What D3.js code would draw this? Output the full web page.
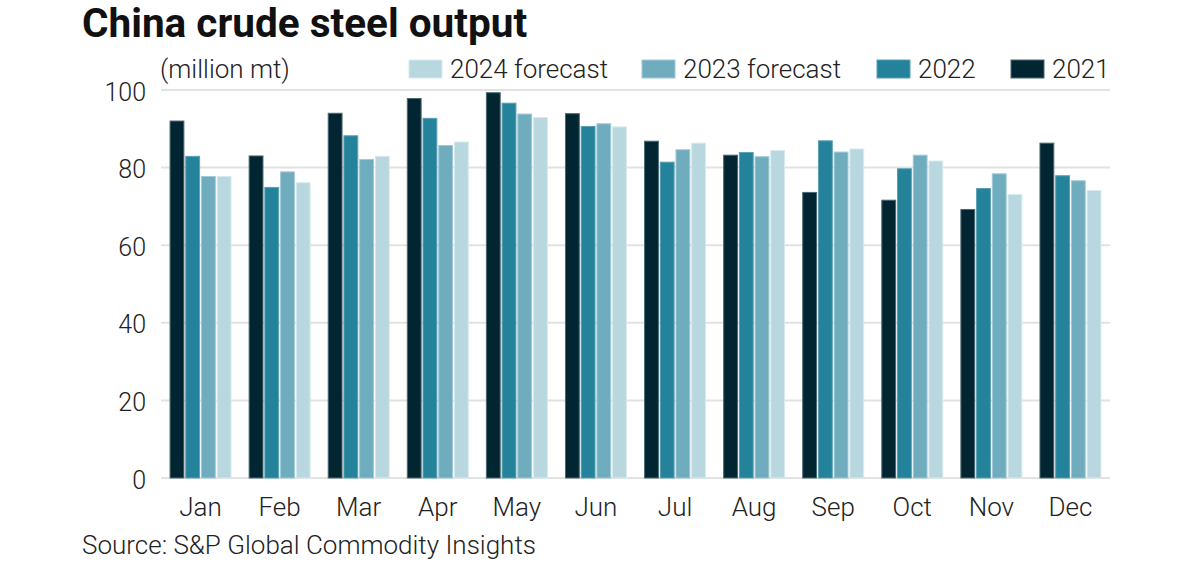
<!DOCTYPE html>
<html><head><meta charset="utf-8">
<script src="https://cdn.jsdelivr.net/npm/d3@7"></script>
<style>
body{margin:0;background:#fff;}
text{font-family:Roboto, "Noto Sans", sans-serif;}
</style></head>
<body><svg id="c" width="1200" height="564"></svg>
<script>
const months = ["Jan","Feb","Mar","Apr","May","Jun","Jul","Aug","Sep","Oct","Nov","Dec"];
const seriesNames = ["2021","2022","2023 forecast","2024 forecast"];
const v2021 = [92.0,83.0,94.0,97.8,99.3,93.9,86.8,83.2,73.6,71.6,69.2,86.3];
const v2022 = [82.9,74.9,88.2,92.7,96.6,90.6,81.4,83.9,86.9,79.7,74.6,77.9];
const v2023 = [77.7,78.9,82.1,85.7,93.8,91.3,84.6,82.8,84.0,83.2,78.4,76.6];
const v2024 = [77.7,76.1,82.9,86.6,92.9,90.5,86.3,84.4,84.8,81.7,73.1,74.1];
const yTicks = [0,20,40,60,80,100];
const colors = ["#022631","#24829b","#6eacbe","#b8d7df"];
const strokes = ["#4a6870","#5aa0b4","#a0cad6","#d8eaef"];

const values = [v2021,v2022,v2023,v2024];
const svg = d3.select("#c");
const L = 161, R = 1110, T = 90, B = 478;

const x = d3.scaleBand().domain(months).range([L,R]).paddingInner(0.229).paddingOuter(0.1145);
const xi = d3.scaleBand().domain(seriesNames).range([0,x.bandwidth()]).paddingInner(0.12);
const y = d3.scaleLinear().domain([0,100]).range([B,T]);

// title
svg.append("text").attr("x",82).attr("y",37).attr("font-size",40.5).attr("font-weight",700)
  .attr("fill","#111").text("China crude steel output");
svg.append("text").attr("x",160).attr("y",78).attr("font-size",26).attr("font-weight",300)
  .attr("fill","#222").text("(million mt)");

// grid
const g = svg.append("g");
g.selectAll("line.grid").data(yTicks).join("line")
  .attr("x1",L).attr("x2",R).attr("y1",d=>y(d)).attr("y2",d=>y(d))
  .attr("stroke","#e2e2e2").attr("stroke-width",2);

// y axis labels
const yAxis = d3.axisLeft(y).tickValues(yTicks).tickSize(0).tickPadding(0);
const ya = svg.append("g").attr("transform",`translate(146,2)`).call(yAxis);
ya.select(".domain").remove();
ya.selectAll("text").attr("font-size",25).attr("font-weight",300).attr("fill","#222")
  .attr("font-family","Roboto, sans-serif");

// x axis labels
const xAxis = d3.axisBottom(x).tickSize(0).tickPadding(0);
const xa = svg.append("g").attr("transform",`translate(0,${B+20})`).call(xAxis);
xa.select(".domain").remove();
xa.selectAll("text").attr("font-size",26).attr("font-weight",300).attr("fill","#222")
  .attr("font-family","Roboto, sans-serif");

// bars
const rows = months.map((m,i)=>({m, vals: seriesNames.map((s,j)=>({s,j,v:values[j][i]}))}));
const groups = svg.append("g").selectAll("g").data(rows).join("g")
  .attr("transform",d=>`translate(${x(d.m)},0)`);
groups.selectAll("rect").data(d=>d.vals).join("rect")
  .attr("x",d=>xi(d.s)).attr("width",xi.bandwidth())
  .attr("y",d=>y(d.v)).attr("height",d=>B-y(d.v))
  .attr("fill",d=>colors[d.j]).attr("stroke",d=>strokes[d.j]).attr("stroke-width",1);

// legend (order: 2024 forecast, 2023 forecast, 2022, 2021)
const legendOrder = [3,2,1,0];
const legendX = [409,642,877,1011];
const lg = svg.append("g");
legendOrder.forEach((j,k)=>{
  lg.append("rect").attr("x",legendX[k]).attr("y",60).attr("width",33).attr("height",18)
    .attr("fill",colors[j]).attr("stroke",strokes[j]).attr("stroke-width",1);
  lg.append("text").attr("x",legendX[k]+41).attr("y",78).attr("font-size",26).attr("font-weight",300)
    .attr("fill","#222").text(seriesNames[j]);
});

svg.append("text").attr("x",82).attr("y",554).attr("font-size",26).attr("font-weight",300)
  .attr("fill","#222").text("Source: S&P Global Commodity Insights");
</script></body></html>
